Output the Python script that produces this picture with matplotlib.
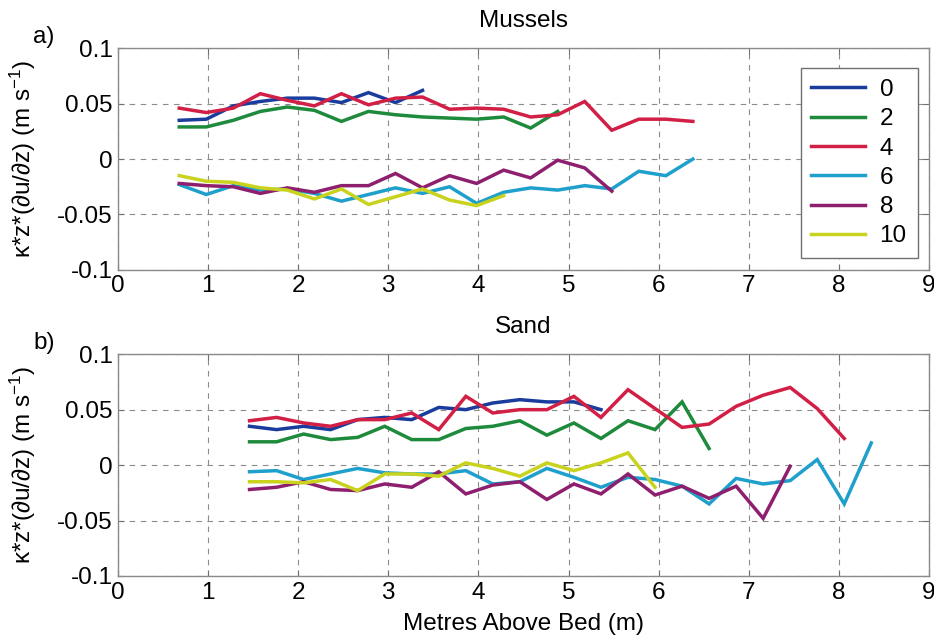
import numpy as np
import matplotlib
matplotlib.use("Agg")
import matplotlib.pyplot as plt

# Heights above the bed (m) for each profile
x_mussels = [0.68 + 0.3 * i for i in range(20)]
x_sand = [1.46 + 0.3 * i for i in range(24)]

series_labels = ["0", "2", "4", "6", "8", "10"]
series_colors = ["#1a3c9c", "#1e8a3c", "#d21f45", "#1fa0cc", "#8e1f6e", "#c9d21c"]

# a) Mussels
mussels_0 = [0.035, 0.036, 0.048, 0.052, 0.055, 0.055, 0.051, 0.060, 0.051, 0.062]
mussels_2 = [0.029, 0.029, 0.035, 0.043, 0.047, 0.044, 0.034, 0.043, 0.040, 0.038,
             0.037, 0.036, 0.038, 0.028, 0.043]
mussels_4 = [0.046, 0.042, 0.046, 0.059, 0.053, 0.048, 0.059, 0.049, 0.055, 0.056,
             0.045, 0.046, 0.045, 0.038, 0.040, 0.052, 0.026, 0.036, 0.036, 0.034]
mussels_6 = [-0.023, -0.032, -0.024, -0.028, -0.027, -0.031, -0.038, -0.032, -0.026, -0.031,
             -0.025, -0.040, -0.030, -0.026, -0.028, -0.024, -0.027, -0.011, -0.015, 0.000]
mussels_8 = [-0.022, -0.024, -0.025, -0.031, -0.026, -0.030, -0.024, -0.024, -0.013, -0.026,
             -0.015, -0.022, -0.010, -0.017, -0.001, -0.008, -0.029]
mussels_10 = [-0.015, -0.020, -0.021, -0.026, -0.028, -0.036, -0.027, -0.041, -0.034, -0.027,
              -0.037, -0.042, -0.033]

# b) Sand
sand_0 = [0.035, 0.032, 0.035, 0.032, 0.041, 0.043, 0.041, 0.052, 0.050, 0.056,
          0.059, 0.057, 0.057, 0.050]
sand_2 = [0.021, 0.021, 0.028, 0.023, 0.025, 0.035, 0.023, 0.023, 0.033, 0.035,
          0.040, 0.027, 0.038, 0.024, 0.040, 0.032, 0.057, 0.015]
sand_4 = [0.040, 0.043, 0.038, 0.035, 0.041, 0.041, 0.047, 0.032, 0.062, 0.047,
          0.050, 0.050, 0.062, 0.043, 0.068, 0.051, 0.034, 0.037, 0.053, 0.063,
          0.070, 0.051, 0.024]
sand_6 = [-0.006, -0.005, -0.013, -0.008, -0.003, -0.007, -0.008, -0.008, -0.005, -0.017,
          -0.015, -0.003, -0.011, -0.020, -0.011, -0.013, -0.019, -0.035, -0.012, -0.017,
          -0.014, 0.005, -0.035, 0.020]
sand_8 = [-0.022, -0.020, -0.015, -0.022, -0.023, -0.017, -0.020, -0.006, -0.026, -0.018,
          -0.015, -0.031, -0.017, -0.026, -0.008, -0.027, -0.019, -0.030, -0.019, -0.048,
          -0.001]
sand_10 = [-0.015, -0.015, -0.016, -0.013, -0.023, -0.008, -0.008, -0.010, 0.002, -0.003,
           -0.010, 0.002, -0.005, 0.002, 0.011, -0.020]

x_ticks = list(range(10))
y_ticks = [-0.1, -0.05, 0, 0.05, 0.1]
y_tick_labels = ["-0.1", "-0.05", "0", "0.05", "0.1"]

plt.rcParams["font.family"] = ["Liberation Sans", "DejaVu Sans"]
plt.rcParams["mathtext.fontset"] = "custom"
plt.rcParams["mathtext.rm"] = "Liberation Sans"
plt.rcParams["mathtext.it"] = "Liberation Sans:italic"
plt.rcParams["axes.unicode_minus"] = False

FS = 17.5
fig = plt.figure(figsize=(9.34, 6.44), dpi=100)
ax_a = fig.add_axes([0.1263, 0.581, 0.8683, 0.344])
ax_b = fig.add_axes([0.1263, 0.1056, 0.8683, 0.3444])

ylabel = "κ*z*(∂u/∂z) (m s$^{-1}$)"


def style(ax, title, tag):
    ax.set_xlim(0, 9)
    ax.set_ylim(-0.1, 0.1)
    ax.set_xticks(x_ticks)
    ax.set_xticklabels([str(t) for t in x_ticks])
    ax.set_yticks(y_ticks)
    ax.set_yticklabels(y_tick_labels)
    ax.tick_params(direction="in", length=4, width=0.8, colors="#707070",
                   labelcolor="black", labelsize=FS, top=True, right=True, pad=4)
    for sp in ax.spines.values():
        sp.set_color("#8a8a8a")
        sp.set_linewidth(1.0)
    ax.grid(True, color="#8c8c8c", linestyle=(0, (5, 5)), linewidth=0.8)
    ax.set_axisbelow(True)
    ax.set_title(title, fontsize=FS, pad=15)
    ax.set_ylabel(ylabel, fontsize=FS)
    ax.yaxis.set_label_coords(-0.098, 0.5)
    ax.text(-0.078, 1.025, tag, transform=ax.transAxes, fontsize=FS,
            ha="right", va="baseline")


panel_a = [mussels_0, mussels_2, mussels_4, mussels_6, mussels_8, mussels_10]
panel_b = [sand_0, sand_2, sand_4, sand_6, sand_8, sand_10]

for vals, lab, col in zip(panel_a, series_labels, series_colors):
    ax_a.plot(x_mussels[:len(vals)], vals, color=col, lw=2.5, label=lab,
              solid_joinstyle="miter")
for vals, col in zip(panel_b, series_colors):
    ax_b.plot(x_sand[:len(vals)], vals, color=col, lw=2.5, solid_joinstyle="miter")

style(ax_a, "Mussels", "a)")
style(ax_b, "Sand", "b)")
ax_b.set_xlabel("Metres Above Bed (m)", fontsize=FS, labelpad=7)

leg = ax_a.legend(loc="upper right", bbox_to_anchor=(0.986, 0.911), fontsize=FS,
                  handlelength=2.2, handletextpad=0.6, labelspacing=0.30,
                  borderpad=0.45, fancybox=False, framealpha=1, borderaxespad=0)
leg.get_frame().set_edgecolor("#707070")
leg.get_frame().set_linewidth(1.0)

fig.savefig("out.png", dpi=100)
